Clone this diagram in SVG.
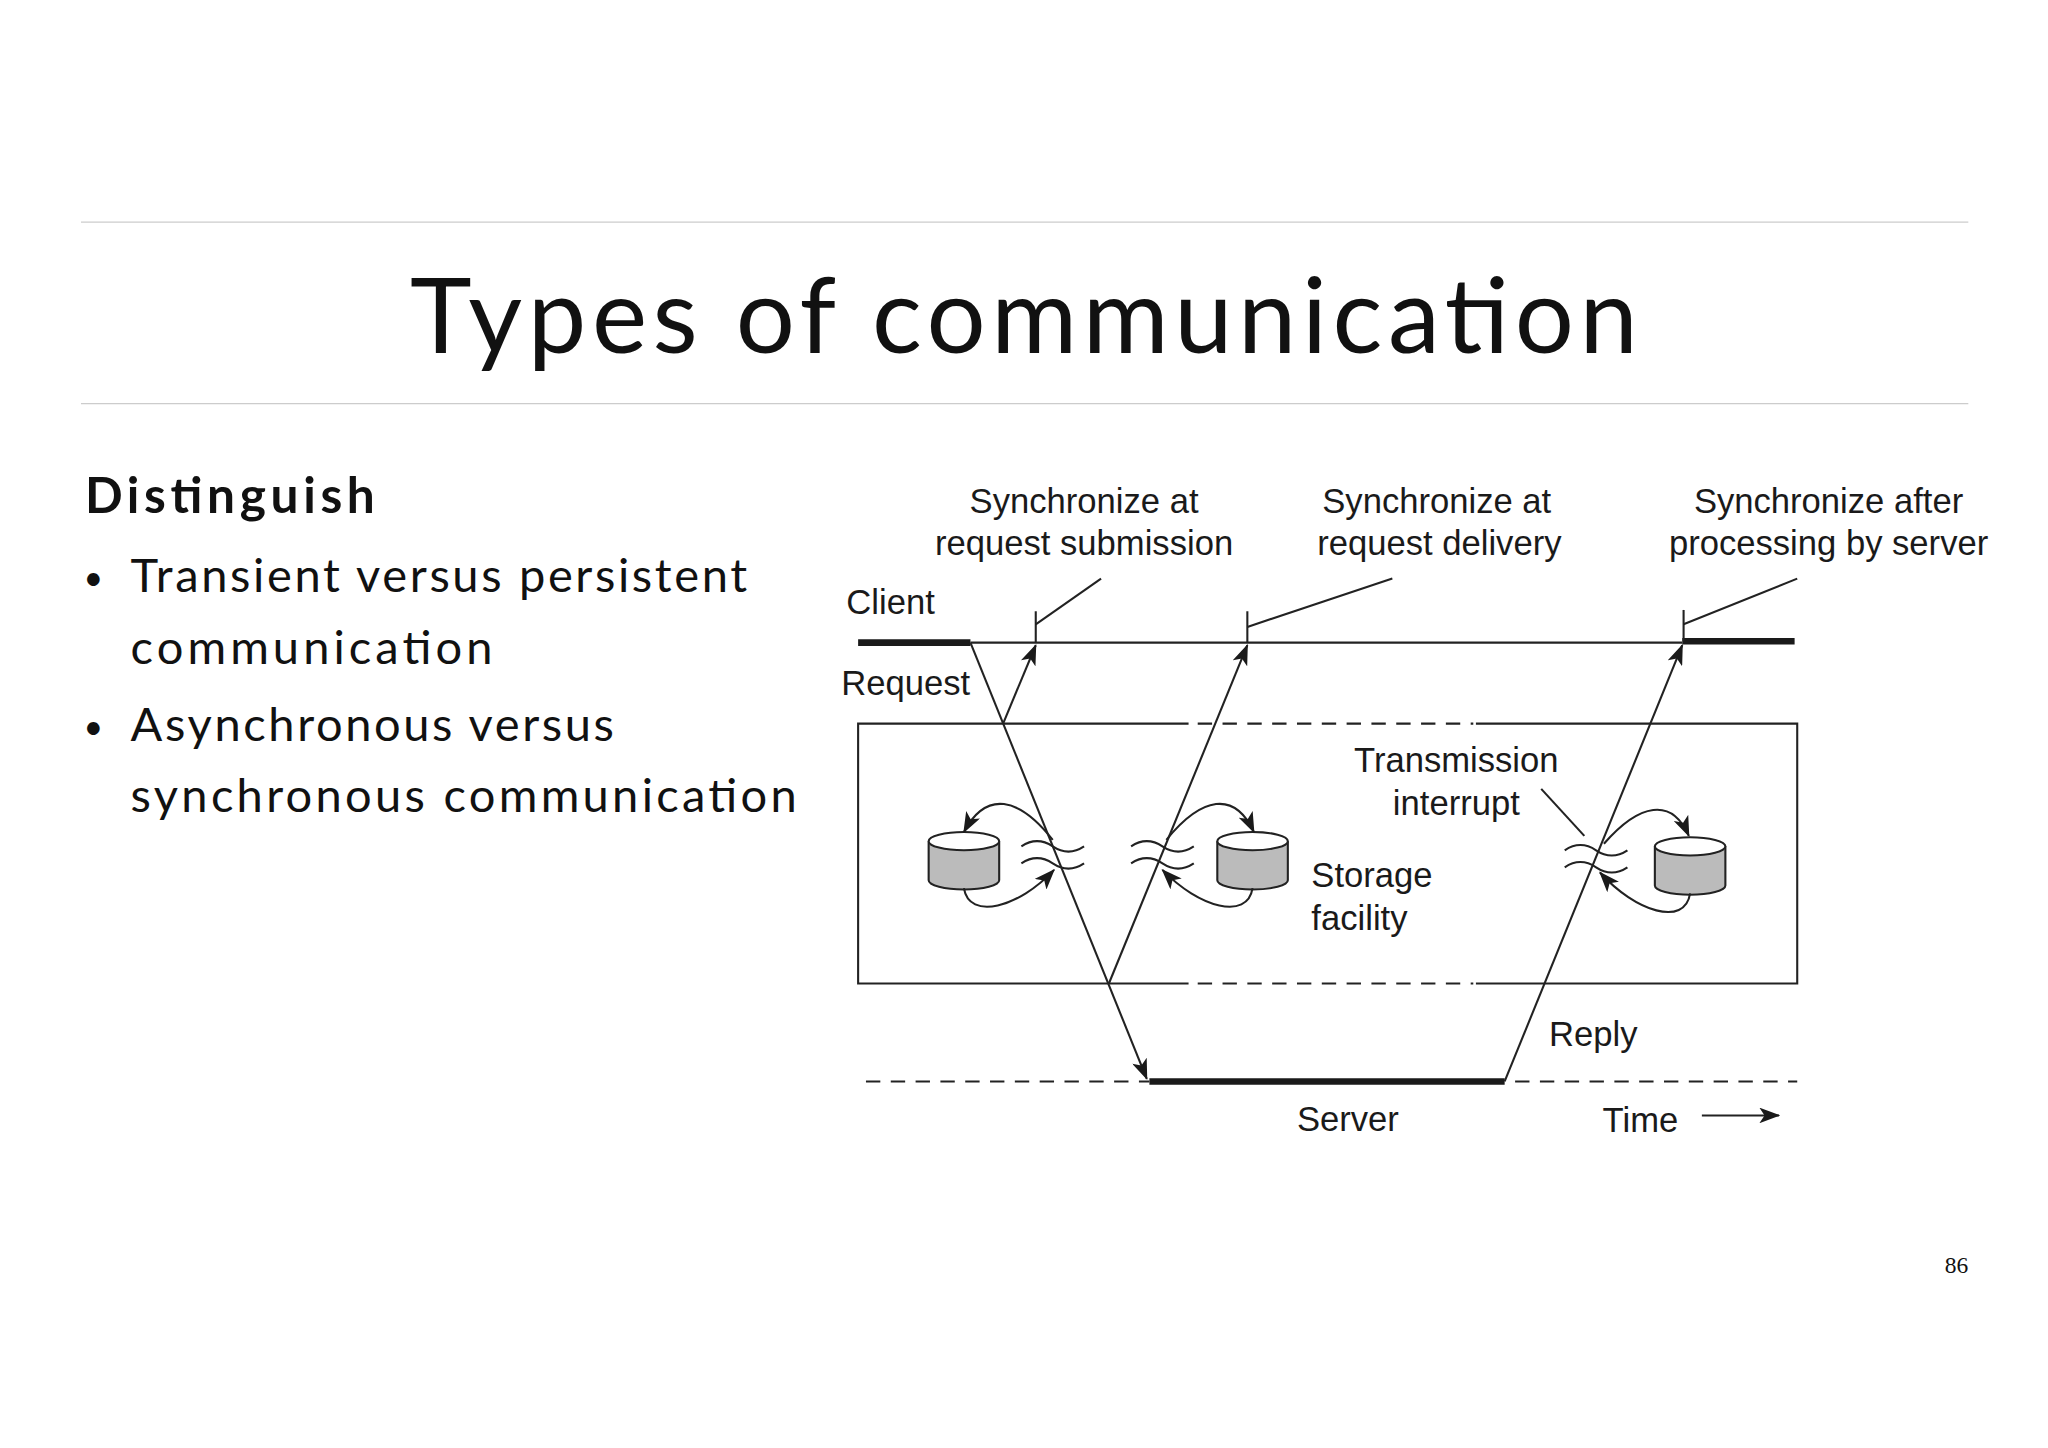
<svg xmlns="http://www.w3.org/2000/svg" width="2048" height="1448" viewBox="0 0 2048 1448">
<style>
.ln{stroke:#222;stroke-width:1.6;fill:none}
.thick{stroke:#1a1a1a;stroke-width:5;fill:none}
.dash{stroke:#222;stroke-width:1.6;fill:none;stroke-dasharray:11 8}
.lbl{font-family:"Liberation Sans",Arial,sans-serif;font-size:26.5px;fill:#1a1a1a}
.cyl{fill:#bbb;stroke:#222;stroke-width:1.6}
.body{font-family:Lato,"Noto Sans",sans-serif;fill:#111}
</style>
<defs>
<marker id="ah" markerWidth="16" markerHeight="12" refX="15" refY="6" orient="auto" markerUnits="userSpaceOnUse">
<path d="M0,0 L16,6 L0,12 L4,6 Z" fill="#1a1a1a"/>
</marker>
</defs>
<rect width="2048" height="1448" fill="#fff"/>
<g transform="scale(1.30612)">
<g id="slide">
<line x1="62" y1="170" x2="1507" y2="170" stroke="#ccc" stroke-width="1"/>
<line x1="62" y1="309" x2="1507" y2="309" stroke="#ccc" stroke-width="1"/>
<text class="body" x="784" y="270" font-size="80" text-anchor="middle" textLength="940">Types of communication</text>
<text class="body" x="65" y="393" font-size="38" font-weight="bold" textLength="222">Distinguish</text>
<text class="body" x="64" y="452" font-size="26">•</text>
<text class="body" x="100" y="453" font-size="36" textLength="472">Transient versus persistent</text>
<text class="body" x="100" y="508" font-size="36" textLength="277">communication</text>
<text class="body" x="64" y="566" font-size="26">•</text>
<text class="body" x="100" y="567" font-size="36" textLength="370">Asynchronous versus</text>
<text class="body" x="100" y="622" font-size="36" textLength="510">synchronous communication</text>
<text x="1507" y="975" font-family="Liberation Serif,serif" font-size="18" text-anchor="end" fill="#111">86</text>
</g>
<g id="labels" class="lbl">
<text x="830" y="393" text-anchor="middle">Synchronize at</text>
<text x="830" y="425" text-anchor="middle">request submission</text>
<text x="1100" y="393" text-anchor="middle">Synchronize at</text>
<text x="1102" y="425" text-anchor="middle">request delivery</text>
<text x="1400" y="393" text-anchor="middle">Synchronize after</text>
<text x="1400" y="425" text-anchor="middle">processing by server</text>
<text x="648" y="470">Client</text>
<text x="644" y="532">Request</text>
<text x="1115" y="591" text-anchor="middle">Transmission</text>
<text x="1115" y="624" text-anchor="middle">interrupt</text>
<text x="1004" y="679">Storage</text>
<text x="1004" y="712">facility</text>
<text x="1186" y="801">Reply</text>
<text x="1032" y="866" text-anchor="middle">Server</text>
<text x="1227" y="867">Time</text>
</g>
<g id="timelines">
<line class="thick" x1="657" y1="492" x2="743" y2="492"/>
<line class="ln" x1="743" y1="492" x2="1288" y2="492"/>
<line class="thick" x1="1288" y1="491" x2="1374" y2="491"/>
<line class="ln" stroke-width="2.5" x1="793" y1="468" x2="793" y2="492"/>
<line class="ln" stroke-width="2.5" x1="955" y1="468" x2="955" y2="492"/>
<line class="ln" stroke-width="2.5" x1="1289" y1="467" x2="1289" y2="491"/>
<line class="ln" x1="793" y1="478" x2="843" y2="443"/>
<line class="ln" x1="955" y1="480" x2="1066" y2="443"/>
<line class="ln" x1="1289" y1="478" x2="1376" y2="443"/>
<line class="dash" x1="663" y1="828" x2="880" y2="828"/>
<line class="thick" x1="880" y1="828" x2="1152" y2="828"/>
<line class="dash" x1="1160" y1="828" x2="1376" y2="828"/>
</g>
<g id="box">
<polyline class="ln" points="910,554 657,554 657,753 910,753"/>
<polyline class="ln" points="1130,554 1376,554 1376,753 1130,753"/>
<line class="dash" x1="917" y1="554" x2="1128" y2="554"/>
<line class="dash" x1="917" y1="753" x2="1128" y2="753"/>
</g>
<g id="storage">
<path class="cyl" d="M711,644 v30 a27,7 0 0 0 54,0 v-30"/>
<ellipse cx="738" cy="644" rx="27" ry="7" fill="#fff" stroke="#222" stroke-width="1.6"/>
<path class="cyl" d="M932,644 v30 a27,7 0 0 0 54,0 v-30"/>
<ellipse cx="959" cy="644" rx="27" ry="7" fill="#fff" stroke="#222" stroke-width="1.6"/>
<path class="cyl" d="M1267,648 v30 a27,7 0 0 0 54,0 v-30"/>
<ellipse cx="1294" cy="648" rx="27" ry="7" fill="#fff" stroke="#222" stroke-width="1.6"/>
</g>
<g id="interrupts" class="ln">
<path d="M782,648 q12,-8 24,0 q12,8 24,0"/>
<path d="M782,661 q12,-8 24,0 q12,8 24,0"/>
<path d="M866,648 q12,-8 24,0 q12,8 24,0"/>
<path d="M866,661 q12,-8 24,0 q12,8 24,0"/>
<path d="M1198,651 q12,-8 24,0 q12,8 24,0"/>
<path d="M1198,664 q12,-8 24,0 q12,8 24,0"/>
<line x1="1180" y1="604" x2="1213" y2="640"/>
</g>
<g id="connectors" class="ln">
<line x1="743" y1="492" x2="878" y2="826" marker-end="url(#ah)"/>
<line x1="768" y1="554" x2="793" y2="494" marker-end="url(#ah)"/>
<line x1="849" y1="753" x2="955" y2="494" marker-end="url(#ah)"/>
<line x1="1152" y1="828" x2="1288" y2="494" marker-end="url(#ah)"/>
<line x1="1303" y1="854" x2="1362" y2="854" marker-end="url(#ah)"/>
<path d="M806,643 C780,610 755,605 738,637" marker-end="url(#ah)"/>
<path d="M738,680 C742,705 780,695 807,666" marker-end="url(#ah)"/>
<path d="M893,643 C920,610 945,605 960,637" marker-end="url(#ah)"/>
<path d="M959,680 C955,705 918,695 890,666" marker-end="url(#ah)"/>
<path d="M1228,646 C1255,615 1280,610 1293,640" marker-end="url(#ah)"/>
<path d="M1294,684 C1290,710 1252,698 1225,668" marker-end="url(#ah)"/>
</g>
</g>
</svg>
